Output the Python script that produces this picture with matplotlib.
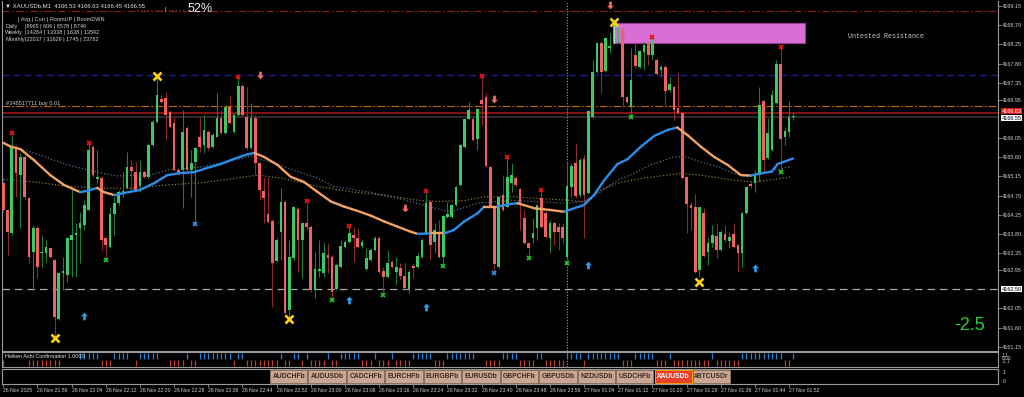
import numpy as np
import matplotlib.pyplot as plt
from matplotlib.patches import Rectangle
from matplotlib.path import Path

plt.rcParams['font.family'] = ['Liberation Sans', 'DejaVu Sans']

# XAUUSDb M1 candles, 26 Nov 21:48 .. 27 Nov 01:53
opens = [4164.99, 4164.36, 4163.82, 4165.84, 4165.18, 4165.60, 4164.64, 4163.37, 4163.94, 4163.35,
         4163.35, 4163.47, 4163.19, 4161.80, 4162.88, 4162.84, 4163.66, 4163.77, 4163.94, 4164.01,
         4164.36, 4165.84, 4165.09, 4165.11, 4163.70, 4163.49, 4164.27, 4164.52, 4164.76, 4164.88,
         4165.37, 4165.25, 4164.92, 4165.25, 4165.14, 4165.89, 4166.43, 4166.97, 4166.99, 4166.66,
         4166.40, 4165.30, 4165.30, 4166.29, 4165.30, 4165.49, 4166.07, 4165.89, 4166.19, 4165.84,
         4166.07, 4166.52, 4166.17, 4166.78, 4166.19, 4166.59, 4167.27, 4166.54, 4165.82, 4166.52,
         4165.46, 4164.81, 4164.27, 4164.10, 4163.16, 4163.84, 4164.55, 4162.01, 4163.23, 4164.38,
         4163.66, 4164.06, 4163.96, 4162.48, 4162.93, 4162.88, 4163.30, 4163.26, 4162.51, 4163.02,
         4163.49, 4163.61, 4163.77, 4163.70, 4163.52, 4162.98, 4163.19, 4163.42, 4163.70, 4162.93,
         4162.79, 4163.14, 4162.91, 4163.00, 4162.81, 4162.51, 4163.05, 4163.02, 4163.26, 4163.82,
         4164.55, 4163.61, 4163.82, 4163.26, 4164.20, 4164.20, 4164.48, 4164.95, 4165.84, 4166.50,
         4166.50, 4166.03, 4166.94, 4167.01, 4165.37, 4164.43, 4163.02, 4164.71, 4164.43, 4164.99,
         4165.11, 4164.85, 4164.17, 4163.59, 4163.70, 4163.94, 4164.64, 4164.29, 4163.70, 4164.06,
         4163.96, 4163.96, 4163.26, 4164.90, 4165.46, 4164.71, 4165.56, 4164.76, 4166.54, 4167.60,
         4168.28, 4167.62, 4168.16, 4168.28, 4168.30, 4168.61, 4167.01, 4166.78, 4168.00, 4167.72,
         4168.07, 4168.28, 4168.00, 4167.88, 4167.65, 4167.72, 4167.18, 4167.25, 4166.76, 4166.64,
         4165.14, 4164.48, 4164.43, 4162.95, 4164.29, 4163.37, 4163.59, 4163.75, 4163.42, 4163.80,
         4163.63, 4163.80, 4163.54, 4163.35, 4164.29, 4164.97, 4164.99, 4165.18, 4166.92, 4165.58,
         4165.77, 4166.87, 4167.79, 4166.07, 4166.19, 4166.54]
highs = [4165.06, 4164.36, 4166.12, 4165.89, 4165.70, 4165.65, 4164.64, 4164.01, 4163.99, 4163.77,
         4163.66, 4163.49, 4163.21, 4162.91, 4163.26, 4163.70, 4164.88, 4164.06, 4164.31, 4164.59,
         4165.93, 4165.89, 4165.77, 4165.16, 4163.73, 4164.43, 4164.67, 4164.83, 4165.25, 4165.72,
         4165.53, 4165.49, 4165.53, 4165.30, 4165.93, 4166.47, 4167.53, 4167.06, 4167.13, 4166.71,
         4166.54, 4165.35, 4166.71, 4166.33, 4165.77, 4165.84, 4166.54, 4166.59, 4166.24, 4166.17,
         4167.11, 4166.71, 4166.83, 4167.06, 4166.64, 4167.46, 4167.32, 4167.25, 4166.87, 4166.59,
         4165.49, 4165.14, 4165.14, 4164.15, 4163.70, 4164.88, 4164.59, 4163.66, 4164.45, 4164.43,
         4164.06, 4164.52, 4164.01, 4163.37, 4163.66, 4163.61, 4163.59, 4163.30, 4163.12, 4163.66,
         4163.66, 4164.01, 4163.96, 4163.91, 4163.66, 4163.47, 4163.47, 4163.75, 4163.75, 4163.02,
         4163.42, 4163.19, 4163.26, 4163.12, 4163.12, 4162.95, 4163.12, 4163.35, 4163.70, 4164.78,
         4164.59, 4164.06, 4164.13, 4164.24, 4164.55, 4164.50, 4164.92, 4165.91, 4166.52, 4166.90,
         4166.54, 4166.76, 4167.53, 4167.11, 4165.39, 4164.45, 4164.69, 4165.18, 4165.60, 4165.46,
         4165.16, 4164.88, 4164.36, 4163.61, 4164.17, 4164.48, 4164.88, 4164.34, 4164.13, 4164.08,
         4164.06, 4164.06, 4165.49, 4165.46, 4165.93, 4165.58, 4165.65, 4166.71, 4167.88, 4168.30,
         4168.33, 4168.42, 4168.52, 4168.82, 4168.68, 4168.63, 4167.04, 4168.16, 4168.28, 4168.12,
         4168.30, 4168.30, 4168.42, 4167.93, 4167.76, 4167.76, 4167.48, 4167.29, 4167.58, 4166.66,
         4165.16, 4164.55, 4164.74, 4164.43, 4164.41, 4163.73, 4164.01, 4164.06, 4163.89, 4164.01,
         4163.84, 4164.06, 4163.56, 4164.31, 4164.92, 4165.02, 4165.30, 4167.25, 4166.94, 4166.52,
         4167.18, 4167.88, 4168.19, 4166.31, 4166.92, 4166.64]
lows = [4164.31, 4163.30, 4163.77, 4164.67, 4163.94, 4164.59, 4163.12, 4162.53, 4162.77, 4163.02,
        4163.14, 4163.23, 4161.38, 4161.78, 4162.48, 4162.67, 4162.79, 4162.79, 4163.12, 4163.89,
        4164.36, 4165.14, 4164.99, 4163.42, 4163.19, 4163.47, 4163.77, 4164.48, 4164.67, 4164.85,
        4164.78, 4164.78, 4164.78, 4165.11, 4165.11, 4165.86, 4166.40, 4166.87, 4166.00, 4166.29,
        4165.28, 4165.18, 4164.41, 4165.25, 4164.67, 4164.06, 4165.72, 4165.70, 4165.77, 4165.82,
        4166.07, 4166.15, 4166.15, 4166.38, 4166.17, 4166.57, 4166.57, 4165.77, 4165.79, 4165.18,
        4164.59, 4164.06, 4164.06, 4162.08, 4163.14, 4163.19, 4161.85, 4161.78, 4163.19, 4162.91,
        4162.77, 4163.89, 4162.44, 4162.30, 4162.79, 4162.79, 4162.88, 4162.25, 4162.48, 4163.00,
        4163.47, 4163.59, 4163.14, 4163.47, 4163.47, 4162.95, 4163.16, 4163.40, 4162.88, 4162.41,
        4162.77, 4163.00, 4162.60, 4162.72, 4162.48, 4162.41, 4162.77, 4163.00, 4163.23, 4163.80,
        4163.19, 4163.35, 4163.23, 4163.07, 4164.17, 4164.17, 4164.45, 4164.92, 4165.82, 4166.47,
        4165.98, 4165.77, 4166.36, 4165.37, 4164.41, 4162.93, 4163.00, 4164.34, 4164.41, 4164.78,
        4164.92, 4163.89, 4163.56, 4163.26, 4163.59, 4163.66, 4163.94, 4163.70, 4163.35, 4163.54,
        4163.42, 4163.59, 4163.19, 4164.67, 4164.64, 4164.67, 4163.70, 4164.74, 4166.52, 4167.58,
        4167.11, 4167.60, 4168.05, 4168.26, 4168.28, 4166.78, 4166.87, 4166.59, 4167.69, 4167.69,
        4167.65, 4167.76, 4167.88, 4167.53, 4167.48, 4166.83, 4167.13, 4166.47, 4166.61, 4165.09,
        4163.82, 4163.89, 4162.88, 4162.79, 4163.26, 4163.07, 4163.49, 4163.23, 4163.40, 4163.61,
        4163.47, 4163.47, 4162.91, 4163.02, 4164.27, 4164.88, 4164.78, 4165.02, 4165.25, 4165.56,
        4165.75, 4166.85, 4165.23, 4165.89, 4166.07, 4166.47]
closes = [4164.36, 4163.84, 4165.82, 4165.23, 4165.60, 4164.67, 4163.26, 4163.94, 4163.02, 4163.37,
          4163.49, 4163.26, 4161.85, 4162.88, 4162.93, 4163.70, 4163.77, 4163.82, 4164.06, 4164.48,
          4165.77, 4165.18, 4165.14, 4163.66, 4163.54, 4164.27, 4164.52, 4164.78, 4164.81, 4165.37,
          4165.28, 4164.81, 4165.25, 4165.14, 4165.89, 4166.43, 4167.06, 4166.90, 4166.59, 4166.31,
          4165.30, 4165.23, 4166.19, 4165.30, 4165.46, 4165.82, 4165.84, 4166.24, 4165.82, 4166.12,
          4166.52, 4166.17, 4166.78, 4166.40, 4166.59, 4167.27, 4166.59, 4165.82, 4166.52, 4165.46,
          4164.83, 4164.64, 4164.08, 4163.12, 4163.66, 4164.55, 4161.94, 4163.26, 4164.43, 4163.66,
          4164.06, 4163.96, 4162.48, 4162.98, 4162.98, 4163.35, 4163.23, 4162.44, 4163.07, 4163.52,
          4163.61, 4163.82, 4163.70, 4163.49, 4163.61, 4163.23, 4163.42, 4163.70, 4162.91, 4162.79,
          4163.12, 4163.02, 4163.02, 4162.81, 4162.53, 4162.91, 4163.00, 4163.28, 4163.66, 4164.52,
          4163.54, 4163.89, 4163.26, 4164.22, 4164.27, 4164.48, 4164.90, 4165.89, 4166.50, 4166.71,
          4166.00, 4166.73, 4166.85, 4165.39, 4164.43, 4163.09, 4164.67, 4164.36, 4165.14, 4165.18,
          4164.95, 4164.52, 4163.59, 4163.47, 4163.82, 4164.48, 4163.96, 4163.73, 4164.06, 4163.84,
          4163.84, 4163.70, 4164.92, 4165.39, 4164.69, 4165.53, 4164.71, 4166.69, 4167.60, 4168.28,
          4167.60, 4168.40, 4168.21, 4168.68, 4168.66, 4167.01, 4166.90, 4167.41, 4167.74, 4168.09,
          4168.23, 4168.00, 4168.35, 4167.55, 4167.72, 4167.15, 4167.32, 4166.71, 4166.64, 4165.11,
          4164.50, 4164.41, 4162.91, 4164.43, 4163.28, 4163.59, 4163.77, 4163.42, 4163.84, 4163.66,
          4163.73, 4163.49, 4163.35, 4164.29, 4164.90, 4164.92, 4165.21, 4166.83, 4165.53, 4166.17,
          4167.06, 4167.79, 4166.03, 4166.22, 4166.54, 4166.57]

time_tick_idx = list(range(0, 185, 8))
time_tick_labels = ['26 Nov 2025', '26 Nov 21:56', '26 Nov 22:04', '26 Nov 22:12', '26 Nov 22:20',
                    '26 Nov 22:28', '26 Nov 22:36', '26 Nov 22:44', '26 Nov 22:52', '26 Nov 23:00',
                    '26 Nov 23:08', '26 Nov 23:16', '26 Nov 23:24', '26 Nov 23:32', '26 Nov 23:40',
                    '26 Nov 23:48', '26 Nov 23:56', '27 Nov 01:04', '27 Nov 01:12', '27 Nov 01:20',
                    '27 Nov 01:28', '27 Nov 01:36', '27 Nov 01:44', '27 Nov 01:52']
price_ticks = [4169.15, 4168.70, 4168.25, 4167.80, 4167.35, 4166.95, 4166.05, 4165.60, 4165.15,
               4164.70, 4164.25, 4163.80, 4163.35, 4162.95, 4162.05, 4161.60, 4161.15]

# moving averages, sampled along the drawn lines (candle index, price)
ma_idx = [0, 1.7, 4, 7.2, 11, 14.2, 18, 19.7, 22, 23.6, 26, 28.3, 32, 35.3, 38.4, 41.6, 44.7,
          47.8, 50.9, 54, 57.2, 58.8, 61, 64.2, 67.3, 70.4, 73.5, 76.7, 79.8, 82.9, 86, 89.2,
          92.3, 95.4, 97, 100.1, 103.2, 105.5, 107.9, 111, 112.6, 115.7, 118.8, 120.4, 124.4,
          128.2, 131.3, 136, 138.3, 140.7, 143.8, 146.1, 149.3, 152.4, 155.5, 157.8, 160.2,
          163.3, 166.4, 169.6, 172.7, 175, 177.4, 179.9, 181.3, 184.9]
ma_val = [4165.94, 4165.85, 4165.79, 4165.53, 4165.18, 4164.95, 4164.78, 4164.81, 4164.88,
          4164.78, 4164.71, 4164.76, 4164.83, 4164.99, 4165.18, 4165.23, 4165.25, 4165.35,
          4165.44, 4165.56, 4165.67, 4165.70, 4165.61, 4165.42, 4165.14, 4165.02, 4164.79,
          4164.56, 4164.44, 4164.34, 4164.23, 4164.09, 4163.97, 4163.85, 4163.80, 4163.81,
          4163.81, 4163.89, 4164.09, 4164.28, 4164.44, 4164.44, 4164.50, 4164.52, 4164.40,
          4164.36, 4164.32, 4164.48, 4164.71, 4165.06, 4165.44, 4165.55, 4165.85, 4166.10,
          4166.24, 4166.30, 4166.12, 4165.85, 4165.61, 4165.42, 4165.18, 4165.17, 4165.22,
          4165.26, 4165.44, 4165.57]
ma2_idx = [1.7, 7.2, 15, 22.8, 26.7, 34.5, 38.4, 46.3, 54.1, 58, 65.7, 73.5, 77.4, 85.2, 93,
           100.9, 104.8, 111, 118.8, 124.3, 132.1, 136, 139.9, 143.8, 147.7, 151.6, 157.1,
           160.2, 163.3, 167.2, 171.1, 174.2, 180.5, 184.4]
ma2_val = [4165.86, 4165.70, 4165.42, 4165.23, 4165.16, 4165.18, 4165.30, 4165.37, 4165.53,
           4165.63, 4165.38, 4165.11, 4164.91, 4164.79, 4164.62, 4164.41, 4164.32, 4164.52,
           4164.59, 4164.56, 4164.52, 4164.56, 4164.79, 4165.06, 4165.22, 4165.42, 4165.61,
           4165.60, 4165.49, 4165.38, 4165.22, 4165.14, 4165.30, 4165.38]
ma3_idx = [0, 7.2, 15, 22.8, 30.6, 38.4, 46.3, 54.1, 59.5, 65.7, 73.5, 81.3, 89.1, 97, 101.6,
           107.9, 112.6, 118.8, 124.3, 132.1, 136, 139.9, 143.8, 149.3, 155.5, 158.6, 163.3,
           171.1, 175.8, 180.5, 184.4]
ma3_val = [4165.08, 4165.02, 4164.92, 4164.87, 4164.87, 4164.95, 4165.00, 4165.10, 4165.18,
           4165.10, 4164.92, 4164.79, 4164.71, 4164.59, 4164.56, 4164.58, 4164.67, 4164.67,
           4164.64, 4164.59, 4164.55, 4164.83, 4164.99, 4165.10, 4165.18, 4165.22, 4165.18,
           4165.06, 4165.02, 4165.08, 4165.14]

# signal markers (candle index, price)
yellow_x_idx = [12, 36, 67, 143, 163]
yellow_x_px = [4161.36, 4167.51, 4161.80, 4168.77, 4162.67]
red_x_idx = [2, 20, 55, 71, 81, 99, 112, 118, 126, 152, 182]
red_x_px = [4166.17, 4165.93, 4167.48, 4164.57, 4163.99, 4164.81, 4167.51, 4165.60, 4164.83,
            4168.42, 4168.19]
green_x_idx = [24, 77, 89, 103, 123, 132, 147, 182]
green_x_px = [4163.19, 4162.25, 4162.37, 4163.05, 4163.23, 4163.12, 4166.54, 4165.25]
blue_x_idx = [45, 115]
blue_x_px = [4164.03, 4162.88]
up_arrow_idx = [19, 81, 99, 137, 176]
up_arrow_px = [4161.87, 4162.25, 4162.08, 4163.07, 4163.00]
down_arrow_idx = [60, 94, 115, 142]
down_arrow_px = [4167.53, 4164.41, 4166.97, 4169.17]

# supply zone
zone_start, zone_end = 142.8, 187.8
zone_lo, zone_hi = 4168.29, 4168.76

# Heiken Ashi confirmation per candle: B = bull bar, R = bear bar, . = none
ha_state = ("R.....RRRRRRRR....BBBBBRRRBBBB.RBBBBB..RRRRBRRBBBBBBBBRBBRRRRRRRRBRRBBRB"
            "RRRRBRRBBBBBRRRBRRRBRRRRBBBBBRRRBBBBBBB..RRRRBBBBRRRRBBRRRRRBBBBRBBBBBBBB"
            "RRRBBBBBRRRBRRRRRRRRRBRRRRRRBBBBBBBBBBRRB")

symbols = ['AUDCHFb', 'AUDUSDb', 'CADCHFb', 'EURCHFb', 'EURGBPb', 'EURUSDb', 'GBPCHFb',
           'GBPUSDb', 'NZDUSDb', 'USDCHFb', 'XAUUSDb', '#BTCUSDr']

W, H = 1024, 397
fig = plt.figure(figsize=(W / 100, H / 100), dpi=100, facecolor='black')


def box(x0, y0, x1, y1):
    # pixel rectangle (top-left origin) -> figure fraction
    return [x0 / W, 1 - y1 / H, (x1 - x0) / W, (y1 - y0) / H]


def fx(px):
    return px / W


def fy(py):
    return 1 - py / H


ax = fig.add_axes(box(2, 1, 998, 350.5))
ax_ha = fig.add_axes(box(2, 352, 998, 367.3))
ax_btn = fig.add_axes(box(2, 368.7, 998, 384.3))

frame = '#9a9a9a'
txt = '#d0d0d0'
for a in (ax, ax_ha, ax_btn):
    a.set_facecolor('black')
    for s in a.spines.values():
        s.set_color(frame)
        s.set_linewidth(0.8)
    a.set_xlim(-0.3, 232.9)
    a.tick_params(axis='x', bottom=False, labelbottom=False)
ax.spines['top'].set_visible(False)

# candles
o, h, l, c = map(np.array, (opens, highs, lows, closes))
xs = np.arange(len(o))
up = c >= o
body_col = np.where(up, '#3cc864', '#f06262')
wick_col = np.where(up, '#1f7d3c', '#8c2c2c')
ax.vlines(xs, l, h, colors=wick_col, lw=0.8, zorder=3)
ax.bar(xs, np.maximum(np.abs(c - o), 0.025), bottom=np.minimum(o, c), width=0.62,
       color=body_col, lw=0, zorder=4)

# moving averages
ax.plot(ma2_idx, ma2_val, color='#50708e', lw=0.9, ls=(0, (1, 1.6)), zorder=2)
ax.plot(ma3_idx, ma3_val, color='#8a7a42', lw=0.9, ls=(0, (1, 1.6)), zorder=2)
for k in range(len(ma_idx) - 1):
    col = '#2a8de8' if ma_val[k + 1] > ma_val[k] else '#f2a262'
    ax.plot(ma_idx[k:k + 2], ma_val[k:k + 2], color=col, lw=1.7,
            solid_capstyle='round', zorder=5)

# horizontal levels
ax.axhline(4169.03, color='#8c1c1c', lw=0.8, ls=(0, (7, 2, 1.5, 2)), zorder=1)
ax.axhline(4167.52, color='#1c1c92', lw=1.0, ls=(0, (5, 3)), zorder=1)
ax.axhline(4166.80, color='#c26a00', lw=0.8, ls=(0, (7, 2, 1.5, 2)), zorder=1)
ax.axhline(4166.63, color='#a81818', lw=1.1, zorder=1)
ax.axhline(4166.55, color='#383838', lw=1.1, zorder=1)
ax.axhline(4162.50, color='#a8a8a8', lw=0.9, ls=(0, (6, 4)), zorder=1)
for a in (ax, ax_ha):
    a.axvline(132, color='#9a9a9a', lw=0.8, ls=(0, (1, 1.5)), zorder=1)

# supply zone
ax.add_patch(Rectangle((zone_start, zone_lo), zone_end - zone_start, zone_hi - zone_lo,
                       facecolor='#d96fd5', edgecolor='#9a3a98', lw=0.8, zorder=2))
ax.plot([zone_start + 0.1] * 2, [zone_lo, zone_hi], color='white', lw=0.8,
        ls=(0, (1, 1)), zorder=6)
ax.text(197.8, 4168.43, 'Untested Resistance', family='Liberation Mono', fontsize=4.8,
        color='#c8c8c8', va='center', ha='left')

# markers
up_arrow = Path([(0, 1), (-0.9, 0.05), (-0.35, 0.05), (-0.35, -1), (0.35, -1), (0.35, 0.05),
                 (0.9, 0.05), (0, 1)], closed=True)
down_arrow = Path([(x, -y) for x, y in up_arrow.vertices], closed=True)
ax.plot(yellow_x_idx, yellow_x_px, ls='none', marker='x', ms=5.5, mew=1.9,
        color='#f8d01c', zorder=7)
ax.plot(red_x_idx, red_x_px, ls='none', marker='x', ms=3.0, mew=1.3, color='#e41414', zorder=7)
ax.plot(green_x_idx, green_x_px, ls='none', marker='x', ms=3.0, mew=1.3, color='#22c02a', zorder=7)
ax.plot(blue_x_idx, blue_x_px, ls='none', marker='x', ms=3.0, mew=1.3, color='#2a8ee0', zorder=7)
ax.plot(up_arrow_idx, up_arrow_px, ls='none', marker=up_arrow, ms=5.5, mew=0,
        color='#2a9ee8', zorder=7)
ax.plot(down_arrow_idx, down_arrow_px, ls='none', marker=down_arrow, ms=5.5, mew=0,
        color='#f07060', zorder=7)

# price axis
ax.set_ylim(4161.06, 4169.27)
ax.yaxis.tick_right()
ax.set_yticks(price_ticks)
ax.set_yticklabels([f'{v:.2f}' for v in price_ticks])
ax.tick_params(axis='y', colors=frame, labelcolor=txt, labelsize=4.0, length=2.0,
               width=0.6, pad=0.8)
yt = ax.get_yaxis_transform()
lab_kw = dict(transform=yt, fontsize=4.0, va='center', ha='left')
ax.text(1.0035, 4166.68, '4166.63', color='white',
        bbox=dict(boxstyle='square,pad=0.12', fc='#e01818', ec='none'), **lab_kw)
ax.text(1.0035, 4166.52, '4166.55', color='black',
        bbox=dict(boxstyle='square,pad=0.12', fc='white', ec='none'), **lab_kw)
ax.text(1.0035, 4162.50, '4162.50', color='black',
        bbox=dict(boxstyle='square,pad=0.12', fc='white', ec='none'), **lab_kw)

# Heiken Ashi confirmation panel
ax_ha.set_ylim(0, 1)
ax_ha.set_yticks([])
bull = [i for i, s in enumerate(ha_state) if s == 'B']
bear = [i for i, s in enumerate(ha_state) if s == 'R']
ax_ha.vlines(bull, 0.51, 0.93, colors='#2a7ed0', lw=0.9)
ax_ha.vlines(bear, 0.07, 0.48, colors='#c0402e', lw=0.9)
ax_ha.text(0.003, 0.68, 'Heiken Ashi Confirmation 1.0000', transform=ax_ha.transAxes,
           fontsize=3.9, color='#e8e8e8', va='center', ha='left')
for yv, lab in ((0.80, '1.1'), (0.575, '0.00'), (0.35, '-1.1')):
    ax_ha.text(1.004, yv, lab, transform=ax_ha.transAxes, fontsize=3.5, color=txt,
               va='center', ha='left')

# symbol buttons panel
ax_btn.set_ylim(0, 1)
ax_btn.set_yticks([])
for yv, lab in ((0.756, '1'), (0.21, '0')):
    ax_btn.text(1.005, yv, lab, transform=ax_btn.transAxes, fontsize=4.0, color=txt,
                va='center', ha='left')
for k, name in enumerate(symbols):
    x0 = 270 + k * 38.45
    bx = (x0 - 2) / 996
    bw = 37.4 / 996
    by0 = (384.3 - 382.6) / 15.6
    bh = 12.2 / 15.6
    active = name == 'XAUUSDb'
    ax_btn.add_patch(Rectangle((bx, by0), bw, bh, transform=ax_btn.transAxes,
                               facecolor='#e8402c' if active else '#c9a692',
                               edgecolor='#f0a000' if active else '#8a7060', lw=0.7))
    ax_btn.text(bx + bw / 2, by0 + bh / 2, name, transform=ax_btn.transAxes,
                fontsize=4.9, fontweight='bold', color='white' if active else '#3a2a22',
                ha='center', va='center')

# time axis
ax_btn.tick_params(axis='x', bottom=True, labelbottom=True, length=2.2, width=0.6,
                   colors=frame, labelcolor=txt, labelsize=3.7, pad=0.8)
ax_btn.set_xticks(time_tick_idx)
ax_btn.set_xticklabels(time_tick_labels)
for t in ax_btn.get_xticklabels():
    t.set_ha('left')

# header and info texts
fig.text(fx(5), fy(6), '\u25bc XAUUSDb,M1  4166.53 4166.63 4166.45 4166.55', fontsize=4.3,
         color='#e0e0e0', va='center', ha='left')
fig.text(fx(137), fy(10), '. . . . . . . . | . . . . .', fontsize=4.5, color='#d8d8d8',
         va='center', ha='left')
fig.text(fx(188), fy(8.5), '52%', fontsize=9, color='#f0f0f0', va='center', ha='left')
fig.text(fx(18), fy(19.7), '| Avg | Curr | RoomUP | RoomDWN', fontsize=4.0, color=txt,
         va='center', ha='left')
rows = [('Daily', '|8965 | 606 | 8578 | 8746'),
        ('Weekly', '|14284 | 13338 | 1638 | 13592'),
        ('Monthly', '|22037 | 31629 | 1745 | 23782')]
for r, (name, vals) in enumerate(rows):
    fig.text(fx(5), fy(26.2 + r * 6.5), name, fontsize=4.0, color=txt, va='center', ha='left')
    fig.text(fx(25), fy(26.2 + r * 6.5), vals, fontsize=4.0, color=txt, va='center', ha='left')
fig.text(fx(6), fy(103), '#346517711 buy 0.01', fontsize=4.1, color='#c8c8c8',
         va='center', ha='left')
fig.text(fx(954), fy(326), '-2.5', fontsize=13, color='#2ecc3a', va='center', ha='left')

fig.savefig('out.png', dpi=100, facecolor='black')
